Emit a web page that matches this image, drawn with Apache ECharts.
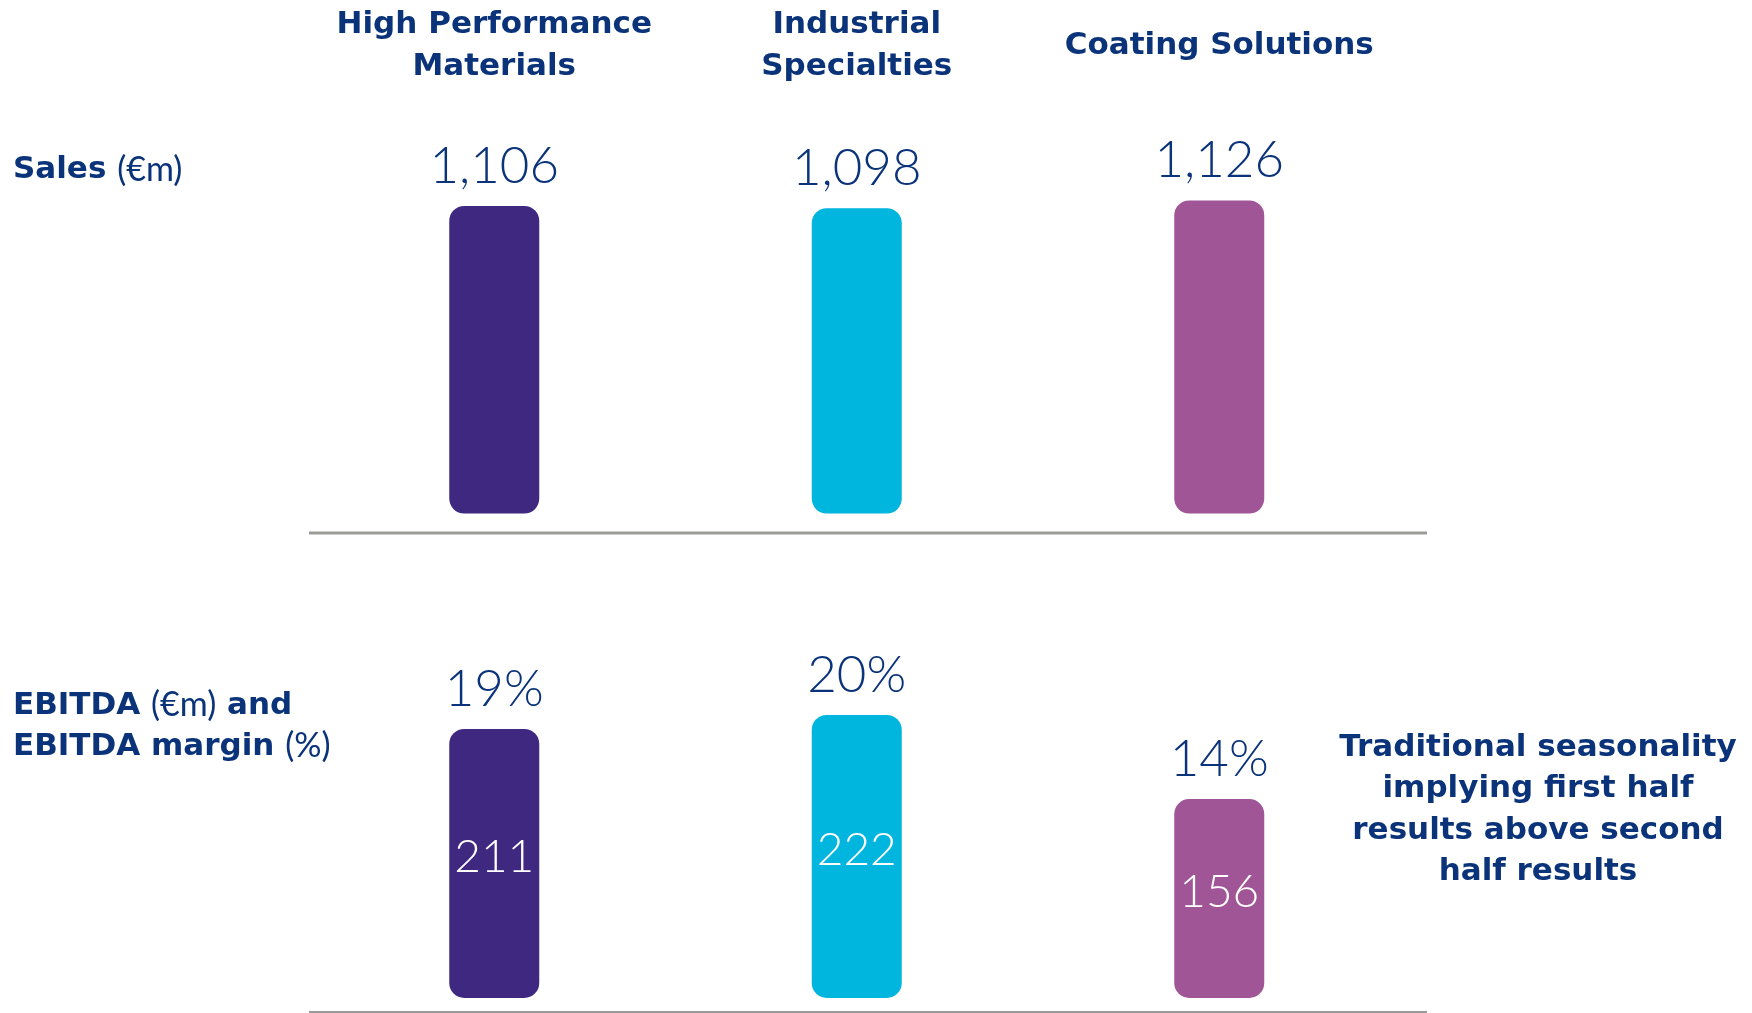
<!DOCTYPE html>
<html>
<head>
<meta charset="utf-8">
<script src="https://cdn.jsdelivr.net/npm/echarts@6/dist/echarts.min.js"></script>
<style>
  html, body { margin: 0; padding: 0; background: #fff; }
  #chart { width: 1752px; height: 1013px; }
</style>
</head>
<body>
<div id="chart"></div>
<script>
const segments = ['High Performance\nMaterials', 'Industrial\nSpecialties', 'Coating Solutions'];
const barColors = ['#3f2980', '#00b5de', '#a05596'];
const sales = [1106, 1098, 1126];
const ebitda = [211, 222, 156];
const ebitdaMargin = [19, 20, 14];

const navy = '#0a337a';
const boldFont = '"DejaVu Sans", Verdana, sans-serif';
const lightFont = 'Lato, "Open Sans", sans-serif';

const chart = echarts.init(document.getElementById('chart'));

const barData = (values) =>
  values.map((v, i) => ({ value: v, itemStyle: { color: barColors[i] } }));

const richParts = {
  b: { fontFamily: boldFont, fontWeight: 'bold', fontSize: 31, lineHeight: 41, fill: navy, color: navy },
  r: { fontFamily: lightFont, fontSize: 34, lineHeight: 41, fill: navy, color: navy },
};

chart.setOption({
  animation: false,
  grid: [
    { left: 313, right: 351.5, top: 152, bottom: 480 },
    { left: 313, right: 351.5, top: 692, bottom: 1 },
  ],
  xAxis: [
    {
      gridIndex: 0,
      type: 'category',
      data: segments,
      position: 'top',
      axisLine: { show: false },
      axisTick: { show: false },
      axisLabel: {
        interval: 0,
        margin: 106,
        verticalAlign: 'middle',
        color: navy,
        fontFamily: boldFont,
        fontWeight: 'bold',
        fontSize: 31,
        lineHeight: 42,
      },
    },
    {
      gridIndex: 1,
      type: 'category',
      data: segments,
      axisLine: { show: false },
      axisTick: { show: false },
      axisLabel: { show: false },
    },
  ],
  yAxis: [
    { gridIndex: 0, type: 'value', min: -70, max: 1300, show: false },
    { gridIndex: 1, type: 'value', min: -11, max: 240, show: false },
  ],
  series: [
    {
      name: 'Sales',
      type: 'bar',
      xAxisIndex: 0,
      yAxisIndex: 0,
      barWidth: 90,
      data: barData(sales),
      itemStyle: { borderRadius: 15 },
      label: {
        show: true,
        position: 'top',
        distance: 14,
        color: navy,
        fontFamily: lightFont,
        fontWeight: 300,
        fontSize: 51,
        formatter: (p) => p.value.toLocaleString('en-US'),
      },
    },
    {
      name: 'EBITDA',
      type: 'bar',
      xAxisIndex: 1,
      yAxisIndex: 1,
      barWidth: 90,
      data: barData(ebitda),
      itemStyle: { borderRadius: 15 },
      label: {
        show: true,
        position: 'inside',
        offset: [0, -6],
        color: '#fff',
        fontFamily: lightFont,
        fontWeight: 300,
        fontSize: 46,
      },
    },
    {
      // margin labels sit on top of the EBITDA bars
      name: 'EBITDA margin',
      type: 'bar',
      xAxisIndex: 1,
      yAxisIndex: 1,
      barWidth: 90,
      barGap: '-100%',
      data: ebitda,
      itemStyle: { color: 'transparent' },
      label: {
        show: true,
        position: 'top',
        distance: 14,
        color: navy,
        fontFamily: lightFont,
        fontWeight: 300,
        fontSize: 51,
        formatter: (p) => ebitdaMargin[p.dataIndex] + '%',
      },
    },
  ],
  graphic: [
    {
      type: 'line',
      shape: { x1: 309, y1: 533, x2: 1427, y2: 533 },
      style: { stroke: '#9b9b95', lineWidth: 3 },
    },
    {
      type: 'line',
      shape: { x1: 309, y1: 1012, x2: 1427, y2: 1012 },
      style: { stroke: '#999999', lineWidth: 2 },
    },
    {
      type: 'text',
      x: 13,
      y: 170,
      style: {
        text: '{b|Sales }{r|(€m)}',
        textVerticalAlign: 'middle',
        rich: richParts,
      },
    },
    {
      type: 'text',
      x: 13,
      y: 726,
      style: {
        text: '{b|EBITDA }{r|(€m)}{b| and}\n{b|EBITDA margin }{r|(%)}',
        textVerticalAlign: 'middle',
        rich: richParts,
      },
    },
    {
      type: 'text',
      x: 1538,
      y: 810,
      style: {
        text: 'Traditional seasonality\nimplying first half\nresults above second\nhalf results',
        textAlign: 'center',
        textVerticalAlign: 'middle',
        fontFamily: boldFont,
        fontWeight: 'bold',
        fontSize: 31,
        lineHeight: 41.5,
        fill: navy,
      },
    },
  ],
});
</script>
</body>
</html>
